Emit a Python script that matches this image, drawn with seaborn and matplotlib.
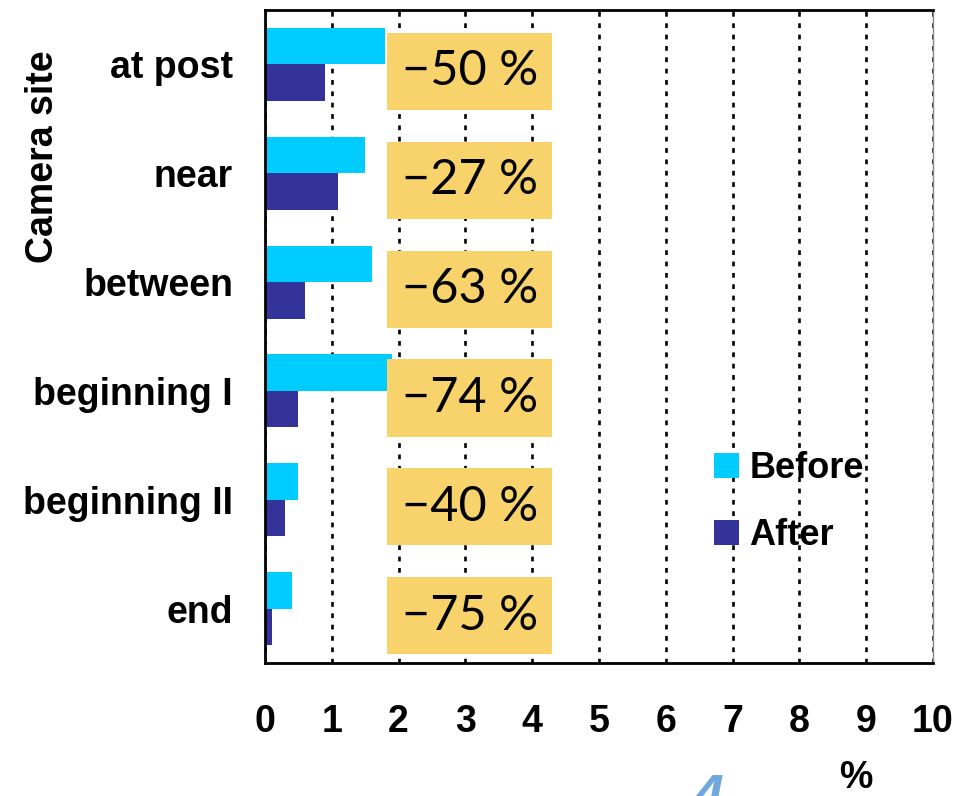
import numpy as np
import pandas as pd
import matplotlib
matplotlib.use("Agg")
import matplotlib.pyplot as plt
import seaborn as sns
from matplotlib.patches import Patch

# Share of frames per camera site, before and after the measure (%)
sites = ["at post", "near", "between", "beginning I", "beginning II", "end"]
before = [1.80, 1.50, 1.60, 1.90, 0.50, 0.40]
after = [0.90, 1.10, 0.60, 0.50, 0.30, 0.10]
change_pct = [-50, -27, -63, -74, -40, -75]
periods = ["Before", "After"]
period_colors = ["#00CCFF", "#333399"]
x_ticks = list(range(0, 11))

df = pd.DataFrame({
    "site": sites * 2,
    "period": [periods[0]] * len(sites) + [periods[1]] * len(sites),
    "value": before + after,
})

sns.set_theme(style="white")
plt.rcParams["font.family"] = ["Liberation Sans", "DejaVu Sans"]
plt.rcParams["text.color"] = "black"
plt.rcParams["xtick.color"] = "black"
plt.rcParams["ytick.color"] = "black"

W, H = 962, 796
fig = plt.figure(figsize=(W / 100, H / 100), dpi=100)
ax = fig.add_axes([265 / W, 1 - 663 / H, (933 - 265) / W, (663 - 10) / H])

sns.barplot(data=df, y="site", x="value", hue="period", order=sites,
            hue_order=periods, palette=period_colors, orient="h",
            width=0.67, saturation=1, linewidth=0, errorbar=None,
            legend=False, ax=ax)

# yellow boxes with the relative change
ypos = np.arange(len(sites))
ax.barh(ypos + 0.065, 2.47, left=1.82, height=0.71, color="#F8D36B",
        linewidth=0, zorder=3)
for y, p in zip(ypos, change_pct):
    ax.text(3.07, y + 0.065, f"\u2212{abs(p)} %", ha="center", va="center",
            fontsize=35, family=["Lato", "DejaVu Sans"], color="black",
            zorder=4)

ax.set_xlim(0, 10)
ax.set_ylim(len(sites) - 0.5, -0.5)
ax.set_xticks(x_ticks)
ax.set_xticklabels([str(t) for t in x_ticks], fontsize=27, fontweight="bold",
                   color="black")
ax.set_yticks(ypos)
ax.set_yticklabels(sites, fontsize=27, fontweight="bold", color="black")
ax.set_yticks(np.arange(-0.5, len(sites), 1), minor=True)
ax.tick_params(axis="y", which="major", length=0, pad=23)
ax.tick_params(axis="y", which="minor", length=9, width=2, direction="out",
               color="black")
ax.tick_params(axis="x", which="major", length=9.5, width=2, direction="out",
               color="black", pad=20)
ax.set_xlabel("")
ax.set_ylabel("")

ax.grid(axis="x", color="black", linestyle=(0, (1.8, 2.5)), linewidth=1.9)
ax.grid(axis="y", visible=False)
ax.set_axisbelow(True)

for side in ["left", "bottom", "top"]:
    ax.spines[side].set_color("black")
    ax.spines[side].set_linewidth(2)
ax.spines["right"].set_color("#888888")
ax.spines["right"].set_linewidth(1)

fig.text(43 / W, 1 - 157 / H, "Camera site", rotation=90, ha="center",
         va="center", fontsize=27, fontweight="bold", color="black")
fig.text(856 / W, 1 - 760 / H, "%", ha="center", va="top", fontsize=27,
         fontweight="bold", color="black")
fig.text(708 / W, 1 - 773 / H, "4", ha="center", va="top", fontsize=40,
         fontweight="bold", style="italic", color="#6FA8DC")

handles = [Patch(facecolor=c, edgecolor="none") for c in period_colors]
leg = fig.legend(handles, periods, loc="upper left",
                 bbox_to_anchor=(714 / W, 1 - 451 / H), frameon=False,
                 prop=dict(weight="bold", size=26), handlelength=0.68,
                 handleheight=0.7, handletextpad=0.3, labelspacing=0.88,
                 borderpad=0, borderaxespad=0)
for t in leg.get_texts():
    t.set_color("black")

fig.savefig("out.png", dpi=100)
